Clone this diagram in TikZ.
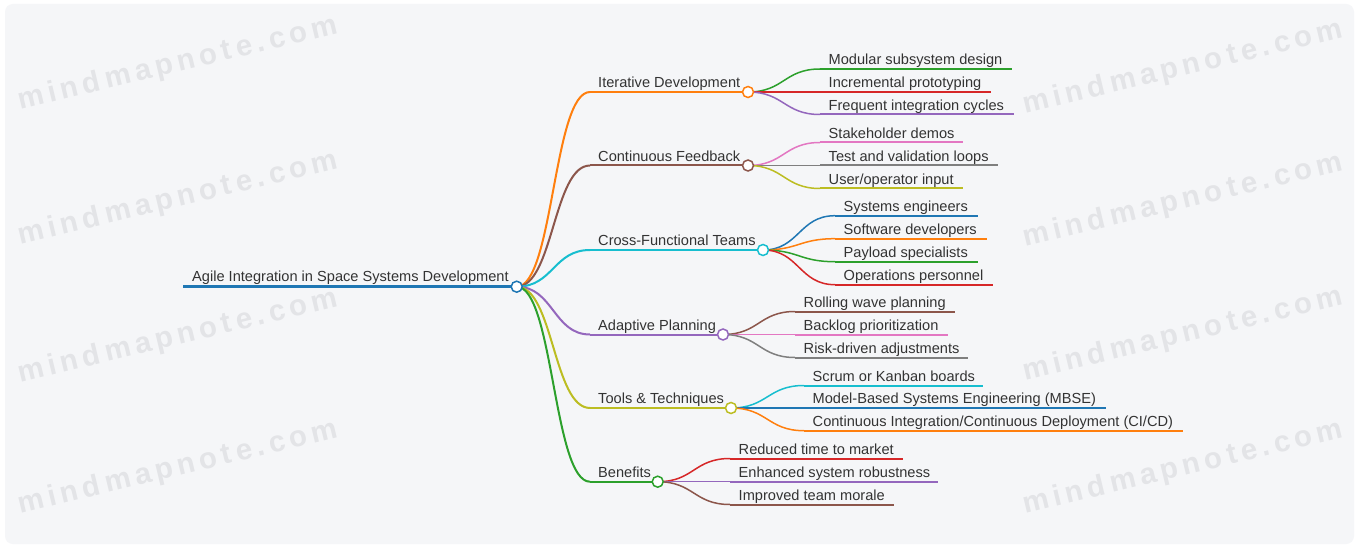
\documentclass[tikz,border=0pt]{standalone}
\usepackage{fontspec}
\setmainfont{Liberation Sans}
\newfontfamily\wmfont[LetterSpace=16]{Liberation Sans Bold}
\usetikzlibrary{calc}

\definecolor{cBlue}{HTML}{1F77B4}
\definecolor{cOrange}{HTML}{FF7F0E}
\definecolor{cGreen}{HTML}{2CA02C}
\definecolor{cRed}{HTML}{D62728}
\definecolor{cPurple}{HTML}{9467BD}
\definecolor{cBrown}{HTML}{8C564B}
\definecolor{cPink}{HTML}{E377C2}
\definecolor{cGray}{HTML}{7F7F7F}
\definecolor{cOlive}{HTML}{BCBD22}
\definecolor{cCyan}{HTML}{17BECF}
\definecolor{txt}{HTML}{333333}
\definecolor{panel}{HTML}{F5F6F8}
\definecolor{mark}{HTML}{E3E4E7}

\tikzset{
  lbl/.style={inner sep=0pt, text=txt, font=\fontsize{14.6}{17}\selectfont},
  uline/.style={line width=2pt},
  rootline/.style={line width=3.5pt},
  dot/.style={circle, fill=white, line width=1.5pt, minimum size=11pt, inner sep=0pt},
  link/.style={to path={let \p1=(\tikztostart), \p2=(\tikztotarget) in
      .. controls ({(\x1+\x2)/2},\y1) and ({(\x1+\x2)/2},\y2) .. (\tikztotarget)}},
  link1/.style={link, line width=2pt},
  link2/.style={link, line width=1.5pt},
  wm/.style={text=mark, rotate=13.5, inner sep=0pt, font=\wmfont\fontsize{29.5}{29.5}\selectfont}
}

% a branch node: name, start x, line y, end x, colour, text
\newcommand{\mmtopic}[6]{%
  \coordinate (#1s) at (#2,#3);
  \coordinate (#1e) at (#4,#3);
  \draw[#5, uline] (#1s) -- (#1e);
  \node[lbl, anchor=base west] (#1) at (#2+8.5,#3-4.2) {#6};
}

\begin{document}
\begin{tikzpicture}[x=1pt, y=-1pt]
  \useasboundingbox (0,0) rectangle (1359,548);
  \fill[white] (0,0) rectangle (1359,548);
  \fill[panel, rounded corners=8pt] (5,4) rectangle (1354,544);

  % watermark
  \foreach \wy/\wr in {64/68,199/201,337/335,468/468} {
    \node[wm] at (178,\wy) {mindmapnote.com};
    \node[wm] at (1183,\wr) {mindmapnote.com};
  }

  % hubs
  \coordinate (root) at (516.7,286.7);
  \coordinate (itD) at (748,92);
  \coordinate (cfD) at (748,165.5);
  \coordinate (ctD) at (763,250);
  \coordinate (apD) at (723,334.5);
  \coordinate (ttD) at (731,408);
  \coordinate (beD) at (657.7,481.7);

  % root topic
  \coordinate (rootS) at (183,286.7);
  \draw[cBlue, rootline] (rootS) -- (root);
  \node[lbl, anchor=base west] (rootT) at (192,281.3) {Agile Integration in Space Systems Development};

  % first level
  \coordinate (itS) at (590,92);
  \coordinate (cfS) at (590,165.5);
  \coordinate (ctS) at (590,250);
  \coordinate (apS) at (590,334.5);
  \coordinate (ttS) at (590,408);
  \coordinate (beS) at (590,481.7);

  \draw[cOrange, link1] (root) to (itS);
  \draw[cBrown,  link1] (root) to (cfS);
  \draw[cCyan,   link1] (root) to (ctS);
  \draw[cPurple, link1] (root) to (apS);
  \draw[cOlive,  link1] (root) to (ttS);
  \draw[cGreen,  link1] (root) to (beS);

  \draw[cOrange, uline] (itS) -- (itD);
  \draw[cBrown,  uline] (cfS) -- (cfD);
  \draw[cCyan,   uline] (ctS) -- (ctD);
  \draw[cPurple, uline] (apS) -- (apD);
  \draw[cOlive,  uline] (ttS) -- (ttD);
  \draw[cGreen,  uline] (beS) -- (beD);

  \node[lbl, anchor=base west] (itT) at (598,87.8)  {Iterative Development};
  \node[lbl, anchor=base west] (cfT) at (598,161.3) {Continuous Feedback};
  \node[lbl, anchor=base west] (ctT) at (598,245.8) {Cross-Functional Teams};
  \node[lbl, anchor=base west] (apT) at (598,330.3) {Adaptive Planning};
  \node[lbl, anchor=base west] (ttT) at (598,403.8) {Tools \& Techniques};
  \node[lbl, anchor=base west] (beT) at (598,477.5) {Benefits};

  % Iterative Development
  \mmtopic{a1}{820}{69}{1012}{cGreen}{Modular subsystem design}
  \mmtopic{a2}{820}{92}{991}{cRed}{Incremental prototyping}
  \mmtopic{a3}{820}{114.5}{1014}{cPurple}{Frequent integration cycles}
  \draw[cGreen,  link2] (itD) to (a1s);
  \draw[cRed,    link2] (itD) to (a2s);
  \draw[cPurple, link2] (itD) to (a3s);

  % Continuous Feedback
  \mmtopic{b1}{820}{142.5}{963}{cPink}{Stakeholder demos}
  \mmtopic{b2}{820}{165.5}{998}{cGray}{Test and validation loops}
  \mmtopic{b3}{820}{188.5}{963}{cOlive}{User/operator input}
  \draw[cPink,  link2] (cfD) to (b1s);
  \draw[cGray,  link2] (cfD) to (b2s);
  \draw[cOlive, link2] (cfD) to (b3s);

  % Cross-Functional Teams
  \mmtopic{c1}{835}{215.7}{978}{cBlue}{Systems engineers}
  \mmtopic{c2}{835}{238.7}{987}{cOrange}{Software developers}
  \mmtopic{c3}{835}{261.7}{978}{cGreen}{Payload specialists}
  \mmtopic{c4}{835}{284.7}{993}{cRed}{Operations personnel}
  \draw[cBlue,   link2] (ctD) to (c1s);
  \draw[cOrange, link2] (ctD) to (c2s);
  \draw[cGreen,  link2] (ctD) to (c3s);
  \draw[cRed,    link2] (ctD) to (c4s);

  % Adaptive Planning
  \mmtopic{d1}{795}{311.5}{955}{cBrown}{Rolling wave planning}
  \mmtopic{d2}{795}{334.5}{948}{cPink}{Backlog prioritization}
  \mmtopic{d3}{795}{357.5}{968}{cGray}{Risk-driven adjustments}
  \draw[cBrown, link2] (apD) to (d1s);
  \draw[cPink,  link2] (apD) to (d2s);
  \draw[cGray,  link2] (apD) to (d3s);

  % Tools & Techniques
  \mmtopic{e1}{804}{385.5}{983}{cCyan}{Scrum or Kanban boards}
  \mmtopic{e2}{804}{408}{1106}{cBlue}{Model-Based Systems Engineering (MBSE)}
  \mmtopic{e3}{804}{430.7}{1183}{cOrange}{Continuous Integration/Continuous Deployment (CI/CD)}
  \draw[cCyan,   link2] (ttD) to (e1s);
  \draw[cBlue,   link2] (ttD) to (e2s);
  \draw[cOrange, link2] (ttD) to (e3s);

  % Benefits
  \mmtopic{f1}{730}{458.5}{903}{cRed}{Reduced time to market}
  \mmtopic{f2}{730}{481.7}{938}{cPurple}{Enhanced system robustness}
  \mmtopic{f3}{730}{504.5}{894}{cBrown}{Improved team morale}
  \draw[cRed,    link2] (beD) to (f1s);
  \draw[cPurple, link2] (beD) to (f2s);
  \draw[cBrown,  link2] (beD) to (f3s);

  % hub circles on top
  \node[dot, draw=cBlue]   (rootC) at (root) {};
  \node[dot, draw=cOrange] (itC) at (itD) {};
  \node[dot, draw=cBrown]  (cfC) at (cfD) {};
  \node[dot, draw=cCyan]   (ctC) at (ctD) {};
  \node[dot, draw=cPurple] (apC) at (apD) {};
  \node[dot, draw=cOlive]  (ttC) at (ttD) {};
  \node[dot, draw=cGreen]  (beC) at (beD) {};
\end{tikzpicture}
\end{document}
